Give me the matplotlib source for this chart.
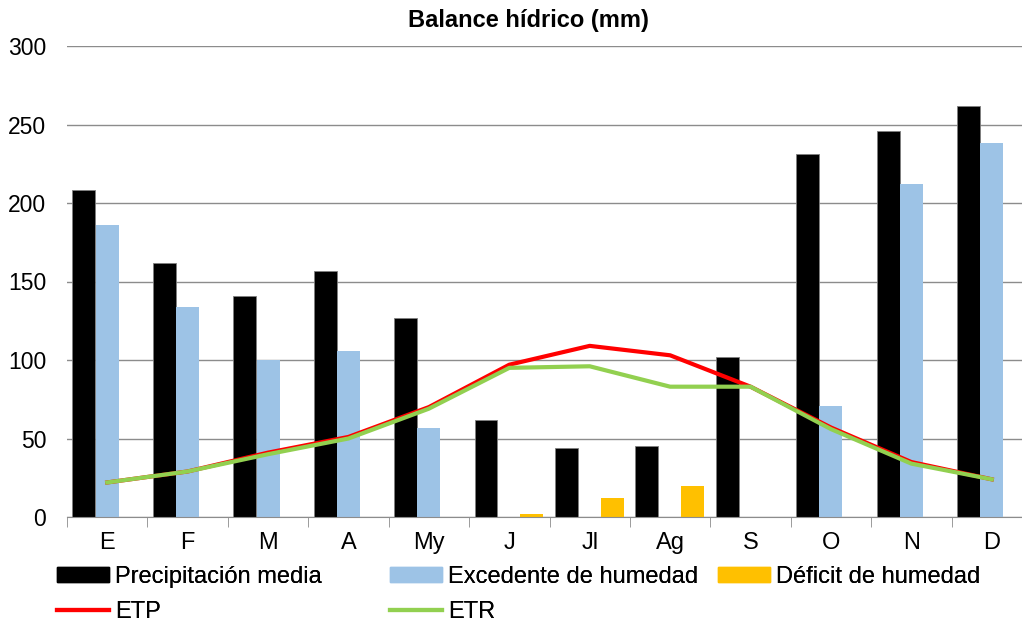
import numpy as np
import matplotlib.pyplot as plt
from matplotlib.patches import Patch
from matplotlib.lines import Line2D

plt.rcParams['font.family'] = ['Liberation Sans', 'DejaVu Sans']

meses = ["E", "F", "M", "A", "My", "J", "Jl", "Ag", "S", "O", "N", "D"]
precipitacion = [208, 162, 141, 157, 127, 62, 44, 45, 102, 231, 246, 262]
excedente = [186, 134, 100, 106, 57, 0, 0, 0, 0, 71, 212, 238]
deficit = [0, 0, 0, 0, 0, 2, 12, 20, 0, 0, 0, 0]
etp = [22, 29, 41, 51, 70, 97, 109, 103, 83, 57, 35, 24]
etr = [22, 29, 40, 50, 69, 95, 96, 83, 83, 56, 34, 24]

W, H = 1022, 628
fig = plt.figure(figsize=(W / 100, H / 100), dpi=100)
# axes runs a bit past the right edge, like the original
ax = fig.add_axes([67 / W, (H - 517) / H, 965 / W, 471 / H])

x = np.arange(len(meses))
bw = 0.285
ax.bar(x - 0.29, precipitacion, bw, color="black", edgecolor="#7f7f7f", linewidth=0.6, zorder=2)
ax.bar(x, excedente, bw, color="#9dc3e6", zorder=2)
ax.bar(x + 0.28, deficit, bw, color="#ffc000", zorder=2)
ax.plot(x, etp, color="#ff0000", linewidth=3, zorder=3)
ax.plot(x, etr, color="#92d050", linewidth=3, zorder=4)

ax.set_xlim(-0.5, len(meses) - 0.5)
ax.set_ylim(0, 300)
ax.set_yticks(range(0, 301, 50))
ax.yaxis.grid(True, color="#8c8c8c", linewidth=1)
ax.set_axisbelow(True)

ax.set_xticks(x)
ax.set_xticklabels(meses, fontsize=17)
ax.set_xticks(np.arange(-0.5, len(meses), 1), minor=True)
ax.tick_params(axis="x", which="major", length=0, pad=11)
ax.tick_params(axis="x", which="minor", length=7, color="#8c8c8c", direction="out")
ax.tick_params(axis="y", length=0, labelsize=16.5, pad=15)

for s in ["top", "right", "left"]:
    ax.spines[s].set_visible(False)
ax.spines["bottom"].set_color("#8c8c8c")

fig.text(528 / W, 1 - 20 / H, "Balance hídrico (mm)", ha="center", va="center",
         fontsize=17, fontweight="bold")

h_prec = Patch(color="black", label="Precipitación media")
h_exc = Patch(color="#9dc3e6", label="Excedente de humedad")
h_def = Patch(color="#ffc000", label="Déficit de humedad")
h_etp = Line2D([], [], color="#ff0000", linewidth=3, label="ETP")
h_etr = Line2D([], [], color="#92d050", linewidth=3, label="ETR")

columnas = [(57, [h_prec, h_etp]), (390, [h_exc, h_etr]), (718, [h_def])]
for xpos, hs in columnas:
    leg = fig.legend(handles=hs, loc="upper left", bbox_to_anchor=(xpos / W, 1 - 566 / H),
                     frameon=False, fontsize=17, handlelength=2.2, handleheight=0.6,
                     handletextpad=0.25, labelspacing=0.55, borderaxespad=0, borderpad=0)
    fig.add_artist(leg)

fig.savefig("out.png", dpi=100)
